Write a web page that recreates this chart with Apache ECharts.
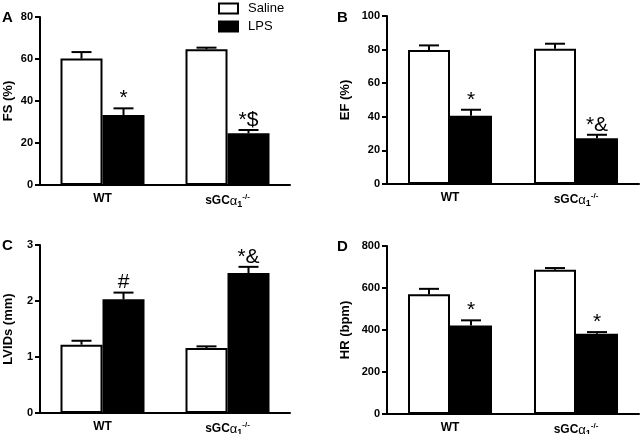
<!DOCTYPE html>
<html>
<head>
<meta charset="utf-8">
<script src="https://cdn.jsdelivr.net/npm/echarts@6/dist/echarts.min.js"></script>
<style>html,body{margin:0;padding:0;background:#fff}#c{width:640px;height:434px}</style>
</head>
<body>
<div id="c"></div>
<script>
// ---- data ----
const categories = ['WT', 'sGCα1-/-'];
const groupNames = ['Saline', 'LPS'];

const fsSaline = [60.2, 64.6];
const fsSalineErr = [3.1, 0.8];
const fsLps = [33.3, 24.6];
const fsLpsErr = [3.2, 1.6];
const fsMarks = ['*', '*$'];

const efSaline = [79.7, 80.5];
const efSalineErr = [2.8, 3.0];
const efLps = [40.6, 27.3];
const efLpsErr = [3.6, 2.0];
const efMarks = ['*', '*&'];

const lvSaline = [1.22, 1.16];
const lvSalineErr = [0.07, 0.03];
const lvLps = [2.03, 2.50];
const lvLpsErr = [0.12, 0.11];
const lvMarks = ['#', '*&'];

const hrSaline = [570, 687];
const hrSalineErr = [26, 8];
const hrLps = [422, 382];
const hrLpsErr = [24, 8];
const hrMarks = ['*', '*'];

const panelLetters = ['A', 'B', 'C', 'D'];
const yNames = ['FS (%)', 'EF (%)', 'LVIDs (mm)', 'HR (bpm)'];
const yMax = [80, 100, 3, 800];
const yInterval = [20, 20, 1, 200];

// ---- layout ----
const FONT = 'Liberation Sans, Arial, sans-serif';
const BAR_W = 42;
const grids = [
  {left: 40, top: 17, width: 250, height: 168},
  {left: 387, top: 16, width: 252, height: 168},
  {left: 40, top: 245, width: 250, height: 168},
  {left: 387, top: 246, width: 252, height: 168}
].map(g => Object.assign(g, {containLabel: false, outerBoundsMode: 'none'}));
const nameGaps = [25, 35, 25, 35];

const panels = [
  [fsSaline, fsSalineErr, fsLps, fsLpsErr, fsMarks],
  [efSaline, efSalineErr, efLps, efLpsErr, efMarks],
  [lvSaline, lvSalineErr, lvLps, lvLpsErr, lvMarks],
  [hrSaline, hrSalineErr, hrLps, hrLpsErr, hrMarks]
];

function catLabel(v) {
  if (v === 'WT') return '{b|WT}';
  return '{b|sGC}{a|α}{sub|1}{sup|-/-}';
}

const xAxes = [], yAxes = [], series = [];
panels.forEach((p, i) => {
  xAxes.push({
    type: 'category', gridIndex: i, data: categories,
    axisLine: {lineStyle: {color: '#000', width: 2}},
    axisTick: {show: false},
    axisLabel: {
      margin: 8, interval: 0, formatter: catLabel, hideOverlap: false,
      rich: {
        b: {fontFamily: FONT, fontWeight: 'bold', fontSize: 12, color: '#000'},
        a: {fontFamily: FONT, fontSize: 13, color: '#000'},
        sub: {fontFamily: FONT, fontWeight: 'bold', fontSize: 9, color: '#000', padding: [7, 0, 0, 0]},
        sup: {fontFamily: FONT, fontWeight: 'bold', fontSize: 8, color: '#000', padding: [0, 0, 8, 0]}
      }
    },
    splitLine: {show: false}
  });
  yAxes.push({
    type: 'value', gridIndex: i, min: 0, max: yMax[i], interval: yInterval[i],
    name: yNames[i], nameLocation: 'middle', nameGap: nameGaps[i], nameRotate: 90,
    nameMoveOverlap: false,
    nameTextStyle: {fontFamily: FONT, fontWeight: 'bold', fontSize: 13, color: '#000'},
    axisLine: {show: true, lineStyle: {color: '#000', width: 2}},
    axisTick: {show: true, length: 5, lineStyle: {color: '#000', width: 2}},
    axisLabel: {fontFamily: FONT, fontWeight: 'bold', fontSize: 11, color: '#000', margin: 7},
    splitLine: {show: false}
  });
  const groups = [[p[0], p[1]], [p[2], p[3]]];
  groups.forEach((g, gi) => {
    series.push({
      type: 'bar', name: groupNames[gi], xAxisIndex: i, yAxisIndex: i,
      data: g[0], barWidth: BAR_W, barGap: '0%',
      itemStyle: gi === 0 ? {color: '#fff', borderColor: '#000', borderWidth: 2}
                          : {color: '#000', borderColor: '#000', borderWidth: 2},
      emphasis: {disabled: true}, silent: true
    });
  });
  groups.forEach((g, gi) => {
    series.push({
      type: 'custom', xAxisIndex: i, yAxisIndex: i, silent: true, z: 5,
      data: g[0].map((v, k) => [k, v, v + g[1][k]]),
      renderItem: function (params, api) {
        const cx = api.coord([api.value(0), api.value(1)]);
        const top = api.coord([api.value(0), api.value(2)]);
        const x = cx[0] + (gi === 0 ? -BAR_W / 2 : BAR_W / 2);
        const children = [
          {type: 'line', shape: {x1: x, y1: cx[1], x2: x, y2: top[1]}, style: {stroke: '#000', lineWidth: 2}},
          {type: 'line', shape: {x1: x - 10, y1: top[1], x2: x + 10, y2: top[1]}, style: {stroke: '#000', lineWidth: 2}}
        ];
        const mark = gi === 1 ? p[4][params.dataIndex] : '';
        if (mark) {
          children.push({type: 'text', x: x, y: top[1] - 10,
            style: {text: mark, fontFamily: FONT, fontSize: 21, fill: '#000', align: 'center', verticalAlign: 'middle'}});
        }
        return {type: 'group', children: children};
      }
    });
  });
});

const letterPos = [[2, 10], [337, 10], [2, 238], [337, 239]];
const graphics = panelLetters.map((l, i) => ({
  type: 'text', left: letterPos[i][0], top: letterPos[i][1],
  style: {text: l, fontFamily: FONT, fontWeight: 'bold', fontSize: 15, fill: '#000'}
}));

const chart = echarts.init(document.getElementById('c'), null, {renderer: 'canvas'});
chart.setOption({
  animation: false,
  backgroundColor: '#fff',
  grid: grids,
  xAxis: xAxes,
  yAxis: yAxes,
  legend: {
    data: [
      {name: 'Saline', itemStyle: {color: '#fff', borderColor: '#000', borderWidth: 2}},
      {name: 'LPS', itemStyle: {color: '#000', borderColor: '#000', borderWidth: 2}}
    ],
    orient: 'vertical', left: 218, top: 2, padding: 0, icon: 'rect',
    itemWidth: 19, itemHeight: 10, itemGap: 5,
    textStyle: {fontFamily: FONT, fontSize: 13, color: '#000', padding: [0, 0, 0, 5]},
    selectedMode: false
  },
  graphic: graphics,
  series: series
});
</script>
</body>
</html>
